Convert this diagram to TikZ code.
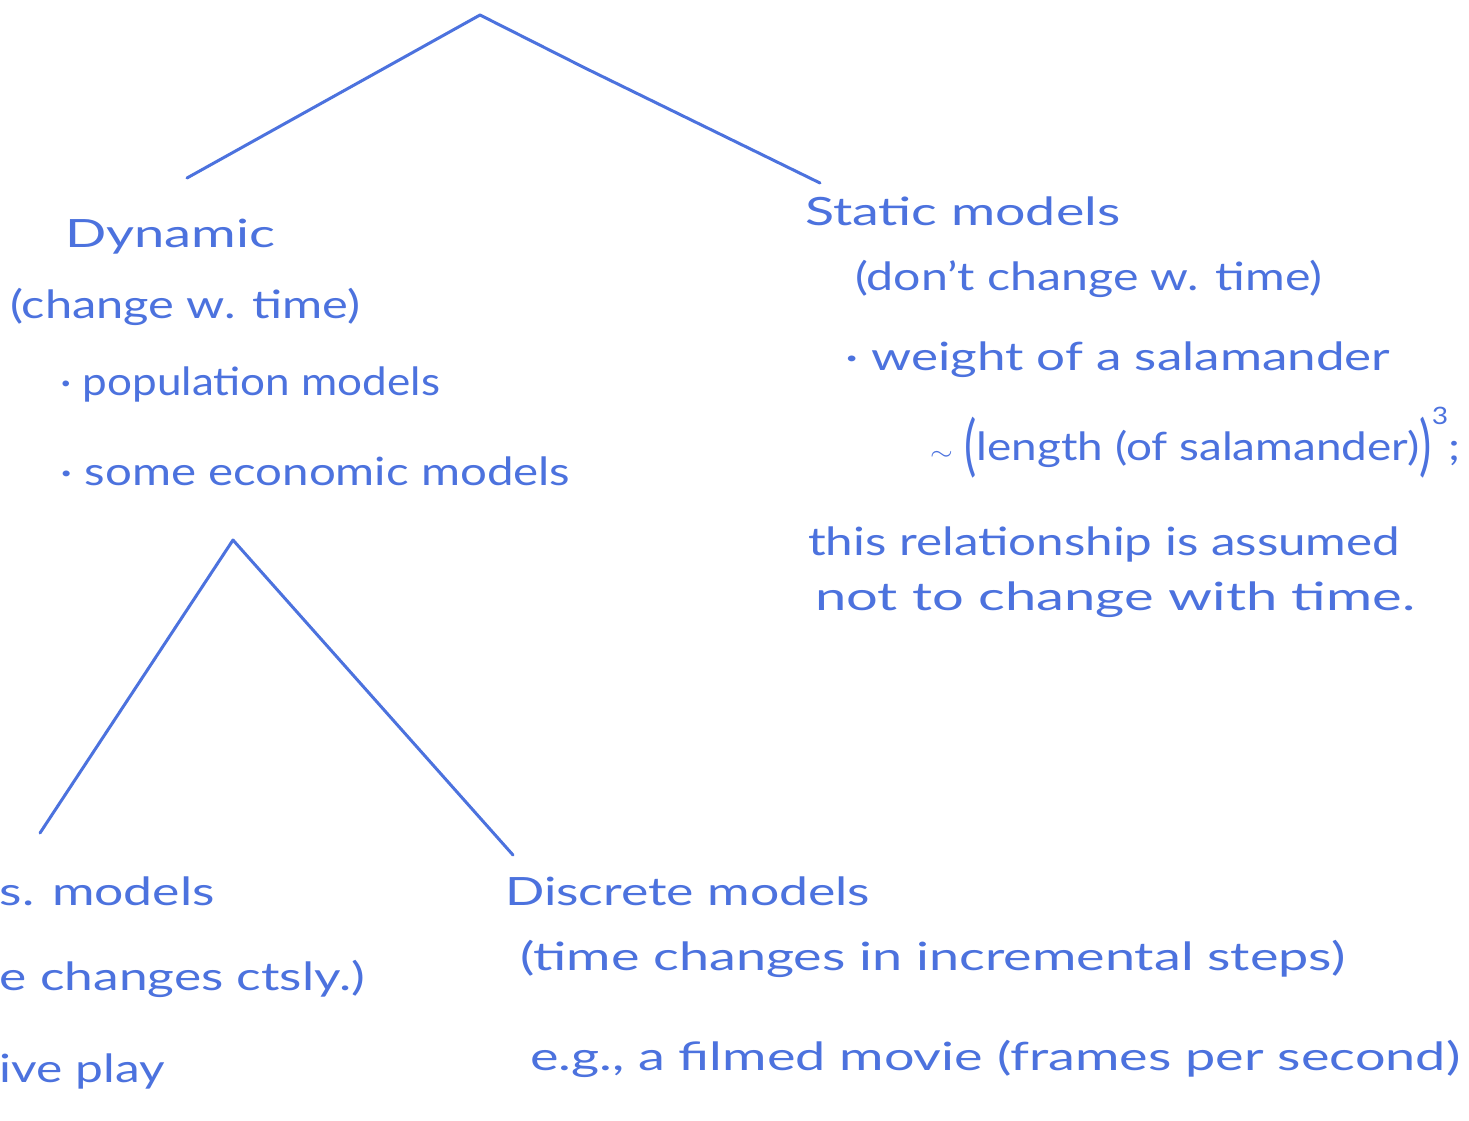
\documentclass[tikz,border=0pt]{standalone}
\usepackage{fontspec}
\setmainfont{Lato}
\usepackage{graphicx}
\definecolor{ink}{RGB}{76,114,222}
\newcommand\hw[2]{\resizebox{#1pt}{\height}{#2}}
\newcommand\bigparen[1]{\raisebox{-0.22em}{\scalebox{1}[1.7]{#1}}}
\begin{document}
\begin{tikzpicture}[x=1pt,y=-1pt,
  pen/.style={draw=ink,line width=3pt,line cap=round,line join=round},
  txt/.style={text=ink,inner sep=0pt,anchor=base west,font=\fontsize{39}{42}\selectfont},
  txtr/.style={txt,anchor=base east}]
\useasboundingbox[fill=white] (0,0) rectangle (1469,1120);
% tree top
\coordinate (top) at (480,15);
\coordinate (dynTop) at (187,178);
\coordinate (statTop) at (820,183);
\draw[pen] (dynTop) -- (top) -- (585,68) -- (statTop);
% second tree
\coordinate (apex) at (233,540);
\coordinate (ctsTop) at (40,833);
\coordinate (discTop) at (513,855);
\draw[pen] (ctsTop) -- (apex) -- (discTop);
% Dynamic
\node[txt] (dyn) at (65,247) {\hw{210}{Dynamic}};
\node[txt] (dyn2) at (10,318) {\hw{350}{(change w. time)}};
\node[txt] (dyn3) at (60,395) {\hw{380}{· population models}};
\node[txt] (dyn4) at (60,485) {\hw{510}{· some economic models}};
% Static
\node[txt] (stat) at (805,225) {\hw{315}{Static models}};
\node[txt] (stat2) at (855,290) {\hw{467}{(don't change w. time)}};
\node[txt] (stat3) at (845,370) {\hw{545}{· weight of a salamander}};
\node[txt] (stat4) at (930,460) {\hw{530}{\(\sim\) \bigparen{(}length (of salamander)\bigparen{)}\raisebox{0.9em}{\fontsize{24}{26}\selectfont 3};}};
\node[txt] (stat5) at (808,555) {\hw{592}{this relationship is assumed}};
\node[txt] (stat6) at (815,610) {\hw{600}{not to change with time.}};
% Continuous (cut off)
\node[txtr] (cts) at (215,905) {\hw{215}{s. models}};
\node[txtr] (cts2) at (365,990) {\hw{365}{e changes ctsly.)}};
\node[txtr] (cts3) at (165,1082) {\hw{165}{ive play}};
% Discrete
\node[txt] (disc) at (505,905) {\hw{365}{Discrete models}};
\node[txt] (disc2) at (520,970) {\hw{825}{(time changes in incremental steps)}};
\node[txt] (disc3) at (530,1070) {\hw{930}{e.g., a filmed movie (frames per second)}};
\end{tikzpicture}
\end{document}
